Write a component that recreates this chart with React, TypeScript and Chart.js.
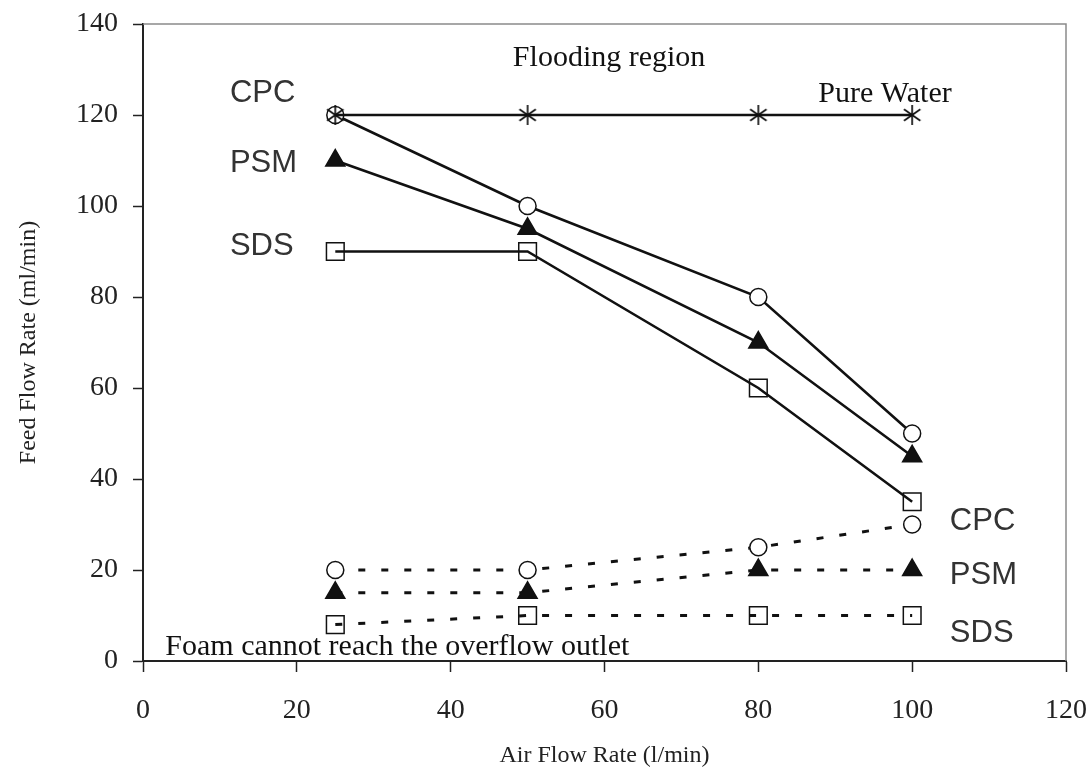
import React, { useEffect, useRef } from 'react';
import { Chart, registerables } from 'chart.js';

Chart.register(...registerables);

// ---- data ----
const airFlow = [25, 50, 80, 100];
const pureWater = [120, 120, 120, 120];
const cpcFlooding = [120, 100, 80, 50];
const psmFlooding = [110, 95, 70, 45];
const sdsFlooding = [90, 90, 60, 35];
const cpcMinimum = [20, 20, 25, 30];
const psmMinimum = [15, 15, 20, 20];
const sdsMinimum = [8, 10, 10, 10];

const xTickValues = [0, 20, 40, 60, 80, 100, 120];
const yTickValues = [0, 20, 40, 60, 80, 100, 120, 140];

const xTitle = 'Air Flow Rate (l/min)';
const yTitle = 'Feed Flow Rate (ml/min)';

// annotation texts (placed in data coordinates)
const annotationTexts = ['Flooding region', 'Pure Water', 'CPC', 'PSM', 'SDS', 'CPC', 'PSM', 'SDS', 'Foam cannot reach the overflow outlet'];
const annotationX = [60.6, 87.8, 11.3, 11.3, 11.3, 104.9, 104.9, 104.9, 2.9];
const annotationY = [130.8, 122.9, 122.9, 107.5, 89.2, 28.8, 16.9, 4.2, 1.3];
const annotationFont = ['serif', 'serif', 'sans', 'sans', 'sans', 'sans', 'sans', 'sans', 'serif'];
const annotationAlign = ['center', 'left', 'left', 'left', 'left', 'left', 'left', 'left', 'left'];

const SERIF = "'Liberation Serif', 'Times New Roman', serif";
const SANS = "'Liberation Sans', Arial, sans-serif";

const pts = (ys: number[]) => airFlow.map((x, i) => ({ x, y: ys[i] }));

function makeStar(): HTMLCanvasElement {
  const c = document.createElement('canvas');
  c.width = 24;
  c.height = 24;
  const ctx = c.getContext('2d')!;
  ctx.strokeStyle = '#111';
  ctx.lineWidth = 1.7;
  const cx = 12, cy = 12, r = 10;
  for (const deg of [90, 35, 145]) {
    const a = (deg * Math.PI) / 180;
    ctx.beginPath();
    ctx.moveTo(cx - r * Math.cos(a), cy - r * Math.sin(a));
    ctx.lineTo(cx + r * Math.cos(a), cy + r * Math.sin(a));
    ctx.stroke();
  }
  return c;
}

export default function App() {
  const ref = useRef<HTMLCanvasElement | null>(null);

  useEffect(() => {
    document.body.style.margin = '0';
    const canvas = ref.current;
    if (!canvas) return;
    const star = makeStar();

    const solid = (label: string, data: number[], style: any, extra: any = {}) => ({
      label,
      data: pts(data),
      borderColor: '#111',
      borderWidth: 2.6,
      showLine: true,
      tension: 0,
      pointStyle: style,
      pointBorderColor: '#111',
      pointBorderWidth: 1.5,
      ...extra,
    });

    const circleOpts = { pointRadius: 8.5, pointBackgroundColor: '#fff' };
    const triOpts = { pointRadius: 11, pointBackgroundColor: '#111' };
    const rectOpts = { pointRadius: 12.5, pointBackgroundColor: 'rgba(0,0,0,0)' };
    const dashed = { borderDash: [7, 16], borderWidth: 3 };

    const overlay = {
      id: 'overlay',
      afterDraw(chart: any) {
        const { ctx, chartArea } = chart;
        const xs = chart.scales.x;
        const ys = chart.scales.y;
        ctx.save();
        // top and right frame
        ctx.strokeStyle = '#8a8a8a';
        ctx.lineWidth = 1.5;
        ctx.beginPath();
        ctx.moveTo(chartArea.left, chartArea.top);
        ctx.lineTo(chartArea.right, chartArea.top);
        ctx.lineTo(chartArea.right, chartArea.bottom);
        ctx.stroke();
        // annotations
        ctx.textBaseline = 'alphabetic';
        annotationTexts.forEach((t, i) => {
          const isSerif = annotationFont[i] === 'serif';
          ctx.font = isSerif ? `30px ${SERIF}` : `31px ${SANS}`;
          ctx.fillStyle = isSerif ? '#111' : '#333';
          ctx.textAlign = annotationAlign[i] as CanvasTextAlign;
          ctx.fillText(t, xs.getPixelForValue(annotationX[i]), ys.getPixelForValue(annotationY[i]));
        });
        ctx.restore();
      },
    };

    const chart = new Chart(canvas, {
      type: 'scatter',
      data: {
        datasets: [
          solid('Pure Water', pureWater, star, { pointRadius: 12 }),
          solid('CPC flooding', cpcFlooding, 'circle', circleOpts),
          solid('PSM flooding', psmFlooding, 'triangle', triOpts),
          solid('SDS flooding', sdsFlooding, 'rect', rectOpts),
          solid('CPC minimum', cpcMinimum, 'circle', { ...circleOpts, ...dashed }),
          solid('PSM minimum', psmMinimum, 'triangle', { ...triOpts, ...dashed }),
          solid('SDS minimum', sdsMinimum, 'rect', { ...rectOpts, ...dashed }),
        ],
      },
      options: {
        animation: false,
        responsive: false,
        devicePixelRatio: 1,
        layout: { padding: { left: 0, right: 24, top: 24, bottom: 0 } },
        plugins: {
          legend: { display: false },
          tooltip: { enabled: false },
        },
        scales: {
          x: {
            type: 'linear',
            min: 0,
            max: 120,
            afterBuildTicks: (s: any) => {
              s.ticks = xTickValues.map((v) => ({ value: v }));
            },
            afterFit: (s: any) => {
              s.height = 118;
              s.paddingLeft = 0;
              s.paddingRight = 0;
            },
            grid: { color: 'rgba(0,0,0,0)', tickColor: '#222', tickLength: 11, tickWidth: 1.5, drawTicks: true },
            border: { display: true, color: '#222', width: 2 },
            ticks: {
              padding: 22,
              color: '#222',
              font: { family: SERIF, size: 28, lineHeight: 1.2 },
            },
            title: {
              display: true,
              text: xTitle,
              color: '#222',
              font: { family: SERIF, size: 24, lineHeight: 1.2 },
              padding: { top: 0, bottom: 9 },
            },
          },
          y: {
            type: 'linear',
            min: 0,
            max: 140,
            afterBuildTicks: (s: any) => {
              s.ticks = yTickValues.map((v) => ({ value: v }));
            },
            afterFit: (s: any) => {
              s.width = 143;
              s.paddingTop = 0;
              s.paddingBottom = 0;
            },
            grid: { color: 'rgba(0,0,0,0)', tickColor: '#222', tickLength: 10, tickWidth: 1.5, drawTicks: true },
            border: { display: true, color: '#222', width: 2 },
            ticks: {
              padding: 15,
              color: '#222',
              font: { family: SERIF, size: 28, lineHeight: 1.2 },
            },
            title: {
              display: true,
              text: yTitle,
              color: '#222',
              font: { family: SERIF, size: 24, lineHeight: 1.2 },
              padding: { top: 14, bottom: 0 },
            },
          },
        },
      },
      plugins: [overlay],
    } as any);

    return () => chart.destroy();
  }, []);

  return (
    <div style={{ width: 1090, height: 779, background: '#fff' }}>
      <canvas ref={ref} width={1090} height={779} style={{ display: 'block' }} />
    </div>
  );
}
